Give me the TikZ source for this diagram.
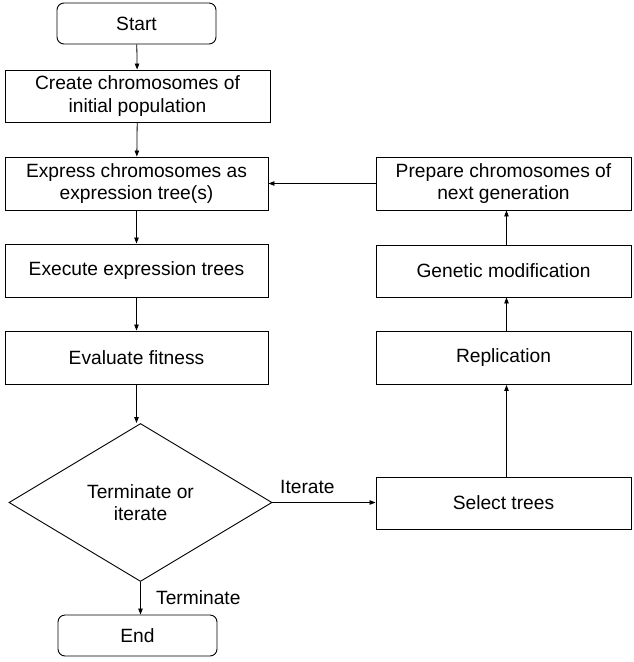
\documentclass[tikz,border=0pt]{standalone}
\usepackage{fontspec}
\setmainfont{Liberation Sans}
\usetikzlibrary{shapes.geometric,arrows.meta}
\begin{document}
\begin{tikzpicture}[x=1pt,y=-1pt,
  every node/.style={font=\fontsize{19.2}{22.5}\selectfont, align=center, inner sep=0pt},
  box/.style={draw, line width=0.9pt, rectangle},
  term/.style={draw, line width=0.9pt, rectangle, rounded corners=7pt, minimum width=159pt, minimum height=41pt},
  decision/.style={draw, line width=0.9pt, diamond, aspect=1.66, minimum width=263pt, minimum height=158pt},
  conn/.style={line width=0.8pt, -{Triangle[length=6pt,width=4.5pt]}},
  lbl/.style={font=\fontsize{19.2}{22.5}\selectfont}
]
\useasboundingbox (0,0) rectangle (634,662);
\node[term] (start) at (136.5,23.5) {Start};
\node[box, minimum width=265pt, minimum height=52pt] (create) at (137.5,96) {Create chromosomes of\\initial population};
\node[box, minimum width=263pt, minimum height=53pt] (express) at (136.5,183.5) {Express chromosomes as\\expression tree(s)};
\node[box, minimum width=263pt, minimum height=53pt] (execute) at (136.5,270.5) {Execute expression trees};
\node[box, minimum width=263pt, minimum height=53pt] (evaluate) at (136.5,357.5) {Evaluate fitness};
\node[decision] (decide) at (140.5,502.5) {Terminate or\\iterate};
\node[term] (end) at (137.5,635.5) {End};
\node[box, minimum width=255pt, minimum height=53pt] (prepare) at (503.5,183.5) {Prepare chromosomes of\\next generation};
\node[box, minimum width=255pt, minimum height=52pt] (genetic) at (503.5,271) {Genetic modification};
\node[box, minimum width=255pt, minimum height=53pt] (replication) at (503.5,358) {Replication};
\node[box, minimum width=255pt, minimum height=52pt] (select) at (503.5,503) {Select trees};

\draw[conn] (start) -- (create);
\draw[conn] (create) -- (express);
\draw[conn] (express) -- (execute);
\draw[conn] (execute) -- (evaluate);
\draw[conn] (evaluate.south) -- (evaluate.south |- decide.north);
\draw[conn] (decide.south) -- (decide.south |- end.north);
\draw[conn] (decide.east) -- (decide.east -| select.west);
\draw[conn] ([xshift=3pt]select.north) -- ([xshift=3pt]replication.south);
\draw[conn] ([xshift=3pt]replication.north) -- ([xshift=3pt]genetic.south);
\draw[conn] ([xshift=3pt]genetic.north) -- ([xshift=3pt]prepare.south);
\draw[conn] (prepare.west) -- (express.east);
\node[lbl, anchor=west] (iter) at (280,487) {Iterate};
\node[lbl, anchor=west] (termlbl) at (156,598) {Terminate};
\end{tikzpicture}
\end{document}
